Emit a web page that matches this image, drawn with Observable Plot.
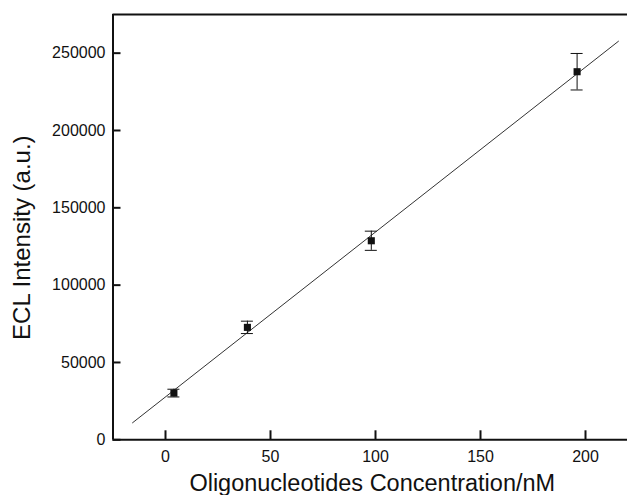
<!DOCTYPE html>
<html>
<head>
<meta charset="utf-8">
<script src="https://cdn.jsdelivr.net/npm/d3@7"></script>
<script src="https://cdn.jsdelivr.net/npm/@observablehq/plot@0.6"></script>
<style>
  html, body { margin: 0; padding: 0; background: #fff; }
  #chart svg { display: block; }
</style>
</head>
<body>
<div id="chart"></div>
<script>
// Data
const concentration = [4, 39, 98, 196];            // nM
const intensity = [30200, 72700, 128700, 238000];  // a.u.
const errorBar = [2500, 4000, 6200, 11800];
const fitX = [-15.7, 215.7];
const fitY = [11000, 257700];
const xTicks = [0, 50, 100, 150, 200];
const yTicks = [0, 50000, 100000, 150000, 200000, 250000];
const xDomain = [-25, 220];
const yDomain = [0, 275000];
const xLabel = "Oligonucleotides Concentration/nM";
const yLabel = "ECL Intensity (a.u.)";

const W = 627, H = 495, ML = 112.5, MR = 0, MT = 14, MB = 55.7;
// inward tick lengths (9 px and 8 px) expressed in data units
const xTickLen = 9 * (yDomain[1] - yDomain[0]) / (H - MT - MB);
const yTickLen = 8 * (xDomain[1] - xDomain[0]) / (W - ML - MR);

const points = concentration.map((c, i) => ({x: c, y: intensity[i], e: errorBar[i]}));
const fit = fitX.map((x, i) => ({x, y: fitY[i]}));
const ticksX = xTicks.map(v => ({x: v, y1: yDomain[0], y2: yDomain[0] + xTickLen}));
const ticksY = yTicks.map(v => ({y: v, x1: xDomain[0], x2: xDomain[0] + yTickLen}));

const ink = "#111";

const chart = Plot.plot({
  width: W,
  height: H,
  marginLeft: ML,
  marginRight: MR,
  marginTop: MT,
  marginBottom: MB,
  style: {fontFamily: "'Liberation Sans', Arial, sans-serif", fontSize: "16px", color: ink, background: "#fff"},
  x: {domain: xDomain},
  y: {domain: yDomain},
  marks: [
    // tick labels
    Plot.axisX(xTicks, {tickSize: 0, tickPadding: 11, fontSize: 16, label: null, fill: ink}),
    Plot.axisY(yTicks, {tickSize: 0, tickPadding: 7.5, fontSize: 16, label: null, fill: ink, tickFormat: d => String(d)}),
    // inward ticks
    Plot.ruleX(ticksX, {x: "x", y1: "y1", y2: "y2", stroke: ink, strokeWidth: 2}),
    Plot.ruleY(ticksY, {y: "y", x1: "x1", x2: "x2", stroke: ink, strokeWidth: 2}),
    // frame (left, bottom, top)
    Plot.ruleX([xDomain[0]], {stroke: ink, strokeWidth: 2}),
    Plot.ruleY([yDomain[0]], {stroke: ink, strokeWidth: 2}),
    Plot.ruleY([yDomain[1]], {stroke: ink, strokeWidth: 2}),
    // fitted line
    Plot.line(fit, {x: "x", y: "y", stroke: "#333", strokeWidth: 1}),
    // error bars
    Plot.ruleX(points, {x: "x", y1: d => d.y - d.e, y2: d => d.y + d.e, stroke: ink, strokeWidth: 1}),
    Plot.ruleY(points, {y: d => d.y + d.e, x1: "x", x2: "x", insetLeft: -6, insetRight: -6, stroke: ink, strokeWidth: 1}),
    Plot.ruleY(points, {y: d => d.y - d.e, x1: "x", x2: "x", insetLeft: -6, insetRight: -6, stroke: ink, strokeWidth: 1}),
    // markers
    Plot.dot(points, {x: "x", y: "y", symbol: "square", r: 4, fill: ink, stroke: "none"}),
    // axis titles
    Plot.text([xLabel], {frameAnchor: "bottom", lineAnchor: "bottom", dy: 50.7, dx: 2, fontSize: 23.5, fill: ink}),
    Plot.text([yLabel], {frameAnchor: "left", textAnchor: "middle", lineAnchor: "bottom", rotate: -90, dx: -83, dy: 10.5, fontSize: 24, fill: ink})
  ]
});

document.getElementById("chart").appendChild(chart);
</script>
</body>
</html>
